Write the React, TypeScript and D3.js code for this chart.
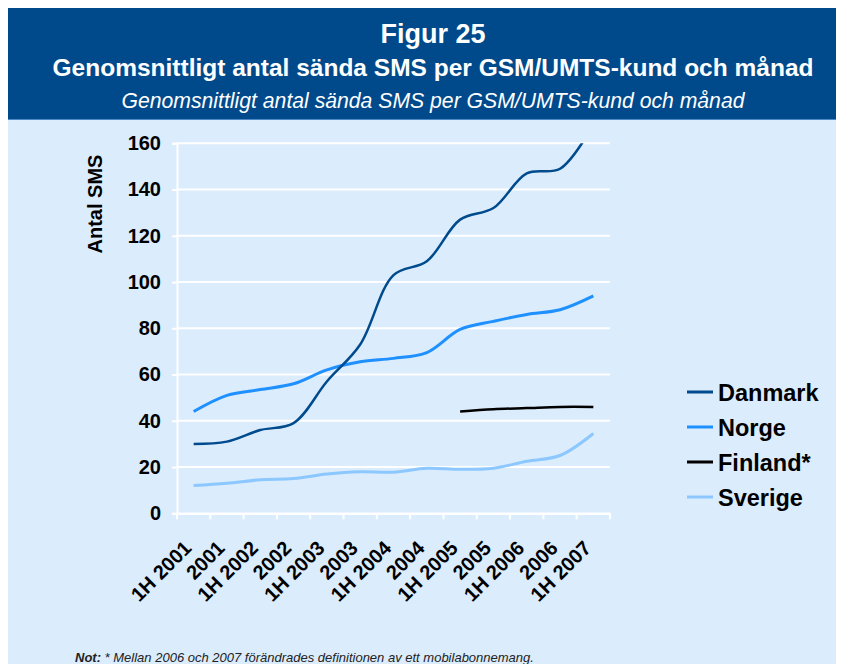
import React, { useRef, useEffect } from 'react';
import * as d3 from 'd3';

// categories (half-year periods)
const periods = [
  '1H 2001', '2001', '1H 2002', '2002', '1H 2003', '2003', '1H 2004',
  '2004', '1H 2005', '2005', '1H 2006', '2006', '1H 2007',
];

// average SMS sent per customer and month
const danmark = [30, 31, 36, 39, 57, 73, 103, 109, 127, 132, 147, 149, 168];
const norge = [44, 51, 53.5, 56, 62, 65.5, 67, 69.5, 79.5, 83, 86, 88, 94];
const finland = [null, null, null, null, null, null, null, null, 44, 45, 45.5, 46, 46];
const sverige = [12, 13, 14.5, 15, 17, 18, 17.8, 19.5, 19, 19.5, 22.5, 25, 34.5];

const yTicks = [0, 20, 40, 60, 80, 100, 120, 140, 160];

const seriesNames = ['Danmark', 'Norge', 'Finland*', 'Sverige'];
const seriesColors = ['#004b8d', '#1e90ff', '#000000', '#8cc8ff'];
const seriesWidths = [2.5, 3, 2.5, 3];

const App = () => {
  const ref = useRef<SVGSVGElement | null>(null);

  useEffect(() => {
    const root = d3.select(ref.current);
    root.selectAll('*').remove();
    // work in page coordinates (svg sits in the 8px body margin)
    const svg = root.append('g').attr('transform', 'translate(-8,-8)');
    const font = 'Liberation Sans, Arial, sans-serif';

    // backgrounds
    svg.append('rect').attr('x', 8).attr('y', 120).attr('width', 836).attr('height', 544).attr('fill', '#dbecfc');
    svg.append('rect').attr('x', 8).attr('y', 8).attr('width', 836).attr('height', 111.5).attr('fill', '#004a8c');
    svg.append('line').attr('x1', 8).attr('x2', 844).attr('y1', 119.5).attr('y2', 119.5)
      .attr('stroke', '#4b88c4').attr('stroke-width', 1);

    // titles
    svg.append('text').attr('x', 433).attr('y', 43.3).attr('text-anchor', 'middle')
      .attr('font-family', font).attr('font-weight', 'bold').attr('font-size', 27).attr('fill', '#fff')
      .text('Figur 25');
    svg.append('text').attr('x', 433).attr('y', 75.5).attr('text-anchor', 'middle')
      .attr('font-family', font).attr('font-weight', 'bold').attr('font-size', 24.5).attr('fill', '#fff')
      .text('Genomsnittligt antal sända SMS per GSM/UMTS-kund och månad');
    svg.append('text').attr('x', 433).attr('y', 108.3).attr('text-anchor', 'middle')
      .attr('font-family', font).attr('font-style', 'italic').attr('font-size', 21.2).attr('fill', '#fff')
      .text('Genomsnittligt antal sända SMS per GSM/UMTS-kund och månad');

    // scales
    const x = d3.scaleBand().domain(periods).range([177, 610]);
    const y = d3.scaleLinear().domain([0, 160]).range([513.3, 143.3]);

    // gridlines
    svg.append('g').selectAll('line').data(yTicks.filter(d => d > 0)).join('line')
      .attr('x1', 177).attr('x2', 610)
      .attr('y1', d => y(d)).attr('y2', d => y(d))
      .attr('stroke', '#fff').attr('stroke-width', 2);

    // y axis
    const yAxis = svg.append('g').attr('transform', 'translate(177,0)')
      .call(d3.axisLeft(y).tickValues(yTicks).tickSize(5).tickPadding(11));
    yAxis.select('.domain').attr('stroke', '#fff').attr('stroke-width', 2);
    yAxis.selectAll('.tick line').attr('stroke', '#fff').attr('stroke-width', 2);
    yAxis.selectAll('.tick text').attr('font-family', font).attr('font-weight', 'bold')
      .attr('font-size', 20).attr('fill', '#000');

    // x axis
    const xAxis = svg.append('g').attr('transform', 'translate(0,513.3)')
      .call(d3.axisBottom(x).tickSize(0).tickFormat(() => ''));
    xAxis.select('.domain').attr('stroke', '#fff').attr('stroke-width', 2.5);
    const edges = periods.map(p => x(p) as number).concat([610]);
    xAxis.append('g').selectAll('line').data(edges).join('line')
      .attr('x1', d => d).attr('x2', d => d).attr('y1', 0).attr('y2', 6)
      .attr('stroke', '#fff').attr('stroke-width', 2);
    xAxis.append('g').selectAll('text').data(periods).join('text')
      .attr('transform', d => `translate(${(x(d) as number) + x.bandwidth() / 2 - 1},${36}) rotate(-45)`)
      .attr('text-anchor', 'end')
      .attr('font-family', font).attr('font-weight', 'bold').attr('font-size', 20).attr('fill', '#000')
      .text(d => d);

    // y label
    svg.append('text').attr('transform', 'translate(102,204) rotate(-90)').attr('text-anchor', 'middle')
      .attr('font-family', font).attr('font-weight', 'bold').attr('font-size', 20).attr('fill', '#000')
      .text('Antal SMS');

    // clip to plot area
    svg.append('clipPath').attr('id', 'plotclip').append('rect')
      .attr('x', 177).attr('y', 143.3).attr('width', 433).attr('height', 370);

    const series = [danmark, norge, finland, sverige];
    const line = d3.line<number | null>()
      .defined(d => d !== null)
      .x((_, i) => (x(periods[i]) as number) + x.bandwidth() / 2)
      .y(d => y(d as number))
      .curve(d3.curveCatmullRom.alpha(0.5));

    const lines = svg.append('g').attr('clip-path', 'url(#plotclip)');
    // draw Sverige, Finland, Norge, Danmark order (Danmark on top)
    [3, 2, 1, 0].forEach(k => {
      lines.append('path').datum(series[k])
        .attr('fill', 'none')
        .attr('stroke', seriesColors[k])
        .attr('stroke-width', seriesWidths[k])
        .attr('d', line);
    });

    // legend
    const legend = svg.append('g');
    seriesNames.forEach((name, k) => {
      const ly = 392 + k * 35;
      legend.append('line').attr('x1', 687).attr('x2', 713).attr('y1', ly).attr('y2', ly)
        .attr('stroke', seriesColors[k]).attr('stroke-width', 3);
      legend.append('text').attr('x', 718).attr('y', ly + 8.5)
        .attr('font-family', font).attr('font-weight', 'bold').attr('font-size', 23.5).attr('fill', '#000')
        .text(name);
    });

    // note
    const note = svg.append('text').attr('x', 75).attr('y', 662)
      .attr('font-family', font).attr('font-style', 'italic').attr('font-size', 13).attr('fill', '#222');
    note.append('tspan').attr('font-weight', 'bold').text('Not:');
    note.append('tspan').text(' * Mellan 2006 och 2007 förändrades definitionen av ett mobilabonnemang.');
  }, []);

  return <svg ref={ref} width={836} height={656} style={{ display: 'block' }} />;
};

export default App;
